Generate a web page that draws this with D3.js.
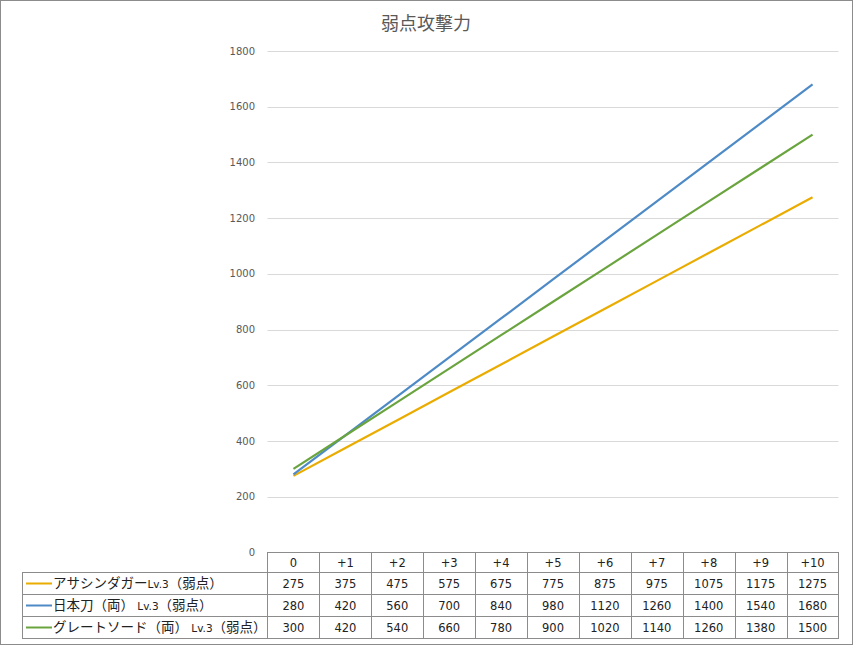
<!DOCTYPE html>
<html><head><meta charset="utf-8">
<script src="https://cdn.jsdelivr.net/npm/d3@7"></script>
<style>body{margin:0;background:#fff}svg{display:block}</style>
</head><body><svg id="c" width="853" height="645"></svg>
<script>
const categories = ["0","+1","+2","+3","+4","+5","+6","+7","+8","+9","+10"];
const seriesNames = [["アサシンダガー","Lv.3","（弱点）"],["日本刀（両）","Lv.3","（弱点）"],["グレートソード（両）","Lv.3","（弱点）"]];
const dagger = [275,375,475,575,675,775,875,975,1075,1175,1275];
const katana = [280,420,560,700,840,980,1120,1260,1400,1540,1680];
const greatsword = [300,420,540,660,780,900,1020,1140,1260,1380,1500];
const colors = ["#EAAC00","#4E8AC6","#6AA43E"];
const yTicks = [0,200,400,600,800,1000,1200,1400,1600,1800];
const title = "弱点攻撃力";

const series = [dagger, katana, greatsword];
const svg = d3.select("#c");
const jp = "'Noto Sans CJK JP', sans-serif";
const num = "'DejaVu Sans', sans-serif";

svg.append("rect").attr("x",0.5).attr("y",0.5).attr("width",852).attr("height",644)
  .attr("fill","#fff").attr("stroke","#8c8c8c");

svg.append("text").attr("x",426).attr("y",30).attr("text-anchor","middle")
  .attr("font-family",jp).attr("font-size",18).attr("fill","#595959").text(title);

const left = 267.5, right = 838.5;
const x = d3.scaleBand().domain(categories).range([left,right]);
const y = d3.scaleLinear().domain([0,1800]).range([552.5,51]);

// gridlines
svg.append("g").selectAll("line").data(yTicks.filter(d=>d>0)).join("line")
  .attr("x1",left).attr("x2",right).attr("y1",d=>Math.round(y(d))+0.5).attr("y2",d=>Math.round(y(d))+0.5)
  .attr("stroke","#d9d9d9");

// y labels
svg.append("g").selectAll("text").data(yTicks).join("text")
  .attr("x",255).attr("y",d=>y(d)+3.5).attr("text-anchor","end")
  .attr("font-family",num).attr("font-size",10).attr("fill","#595959").text(d=>d);

// lines
const line = d3.line().x((d,i)=>x(categories[i])+x.bandwidth()/2).y(d=>y(d));
series.forEach((s,k)=>{
  svg.append("path").datum(s).attr("d",line).attr("fill","none")
    .attr("stroke",colors[k]).attr("stroke-width",2.2).attr("stroke-linejoin","round");
});

// data table
const rowTops = [552.5,572.5,594.5,616.5,638.5];
const tg = svg.append("g").attr("stroke","#8c8c8c").attr("fill","none");
// header row
tg.append("rect").attr("x",left).attr("y",rowTops[0]).attr("width",right-left).attr("height",rowTops[4]-rowTops[0]);
tg.append("rect").attr("x",22.5).attr("y",rowTops[1]).attr("width",right-22.5).attr("height",rowTops[4]-rowTops[1]);
rowTops.slice(1,4).forEach(t=>tg.append("line").attr("x1",22.5).attr("x2",right).attr("y1",t).attr("y2",t));
categories.forEach((c,i)=>{ if(i>0){ const xx=Math.round(x(c))+0.5; tg.append("line").attr("x1",xx).attr("x2",xx).attr("y1",rowTops[0]).attr("y2",rowTops[4]);}});

// header texts
svg.append("g").selectAll("text").data(categories).join("text")
  .attr("x",d=>x(d)+x.bandwidth()/2).attr("y",rowTops[0]+14.5).attr("text-anchor","middle")
  .attr("font-family",num).attr("font-size",11.5).attr("fill","#222").text(d=>d);

series.forEach((s,k)=>{
  const ty = rowTops[k+1]+15.5;
  svg.append("g").selectAll("text").data(s).join("text")
    .attr("x",(d,i)=>x(categories[i])+x.bandwidth()/2).attr("y",ty).attr("text-anchor","middle")
    .attr("font-family",num).attr("font-size",11.5).attr("fill","#222").text(d=>d);
  const cy = rowTops[k+1]+11;
  svg.append("line").attr("x1",26).attr("x2",52).attr("y1",cy).attr("y2",cy)
    .attr("stroke",colors[k]).attr("stroke-width",2);
  const t = svg.append("text").attr("x",53).attr("y",ty).attr("font-family",jp).attr("fill","#222");
  t.append("tspan").attr("font-size",13.5).text(seriesNames[k][0]);
  t.append("tspan").attr("font-size",10.5).attr("font-family",num).text((k>0?" ":"")+seriesNames[k][1]);
  t.append("tspan").attr("font-size",13.5).text(seriesNames[k][2]);
});
</script></body></html>
